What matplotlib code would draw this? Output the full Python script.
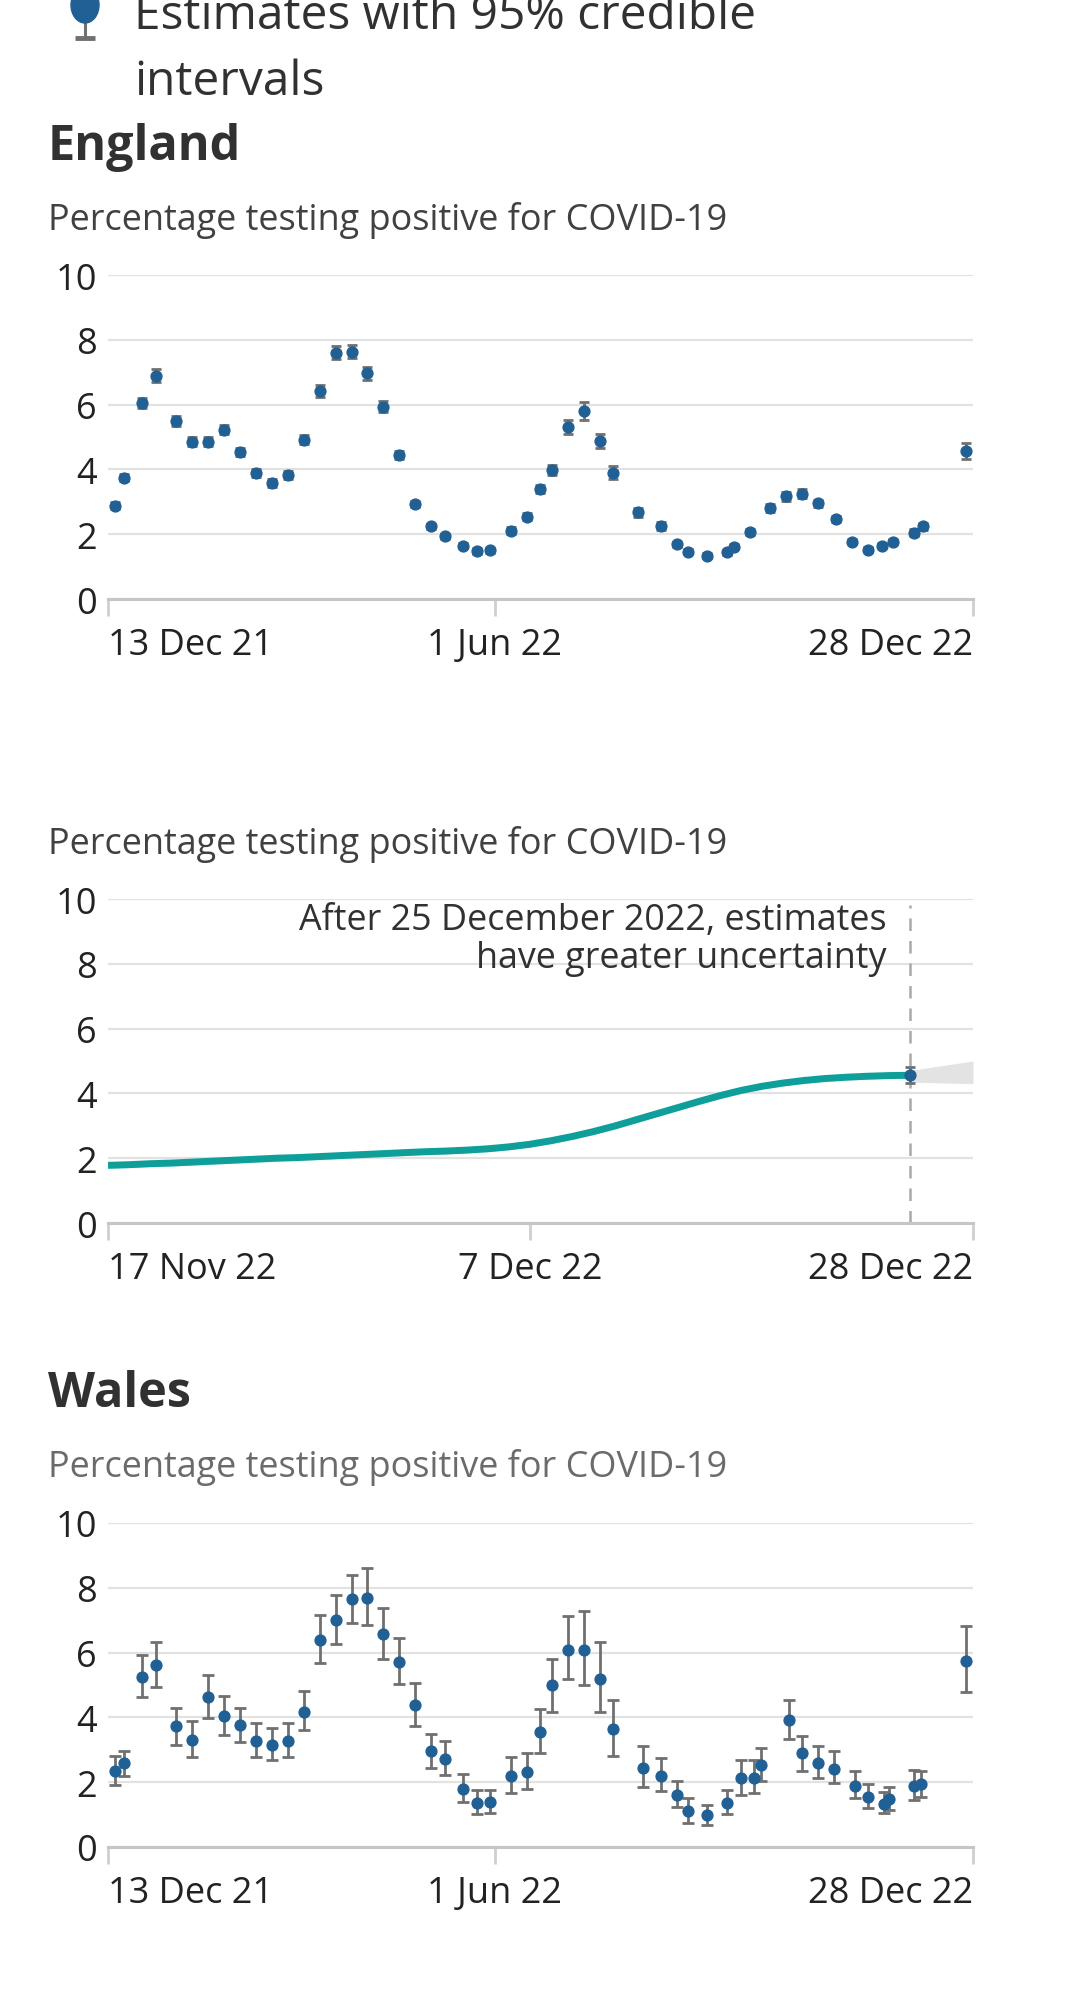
import numpy as np
import pandas as pd
import matplotlib
matplotlib.use("Agg")
import matplotlib.pyplot as plt
from matplotlib.patches import Ellipse

plt.rcParams['font.family'] = ['Open Sans', 'DejaVu Sans']

# ---- data ----
england_dates = ['2021-12-16', '2021-12-20', '2021-12-28', '2022-01-03', '2022-01-12', '2022-01-19',
                 '2022-01-26', '2022-02-02', '2022-02-09', '2022-02-16', '2022-02-23', '2022-03-02',
                 '2022-03-09', '2022-03-16', '2022-03-23', '2022-03-30', '2022-04-06', '2022-04-13',
                 '2022-04-20', '2022-04-27', '2022-05-04', '2022-05-10', '2022-05-18', '2022-05-24',
                 '2022-05-30', '2022-06-08', '2022-06-15', '2022-06-21', '2022-06-26', '2022-07-03',
                 '2022-07-10', '2022-07-17', '2022-07-23', '2022-08-03', '2022-08-13', '2022-08-20',
                 '2022-08-25', '2022-09-02', '2022-09-11', '2022-09-14', '2022-09-21', '2022-09-30',
                 '2022-10-07', '2022-10-14', '2022-10-21', '2022-10-29', '2022-11-05', '2022-11-12',
                 '2022-11-18', '2022-11-23', '2022-12-02', '2022-12-06', '2022-12-25']
england_est = [2.88, 3.75, 6.04, 6.89, 5.50, 4.86, 4.86, 5.23, 4.53, 3.88, 3.58, 3.83, 4.92, 6.43,
               7.60, 7.63, 6.96, 5.94, 4.45, 2.94, 2.25, 1.94, 1.65, 1.48, 1.50, 2.11, 2.54, 3.40,
               3.99, 5.30, 5.80, 4.87, 3.89, 2.67, 2.26, 1.69, 1.46, 1.34, 1.44, 1.62, 2.07, 2.82,
               3.17, 3.25, 2.95, 2.47, 1.77, 1.52, 1.65, 1.77, 2.05, 2.24, 4.56]
england_lower = [2.78, 3.65, 5.89, 6.69, 5.35, 4.71, 4.71, 5.08, 4.41, 3.76, 3.46, 3.71, 4.77, 6.25,
                 7.40, 7.43, 6.76, 5.77, 4.32, 2.84, 2.17, 1.86, 1.57, 1.40, 1.42, 2.01, 2.44, 3.27,
                 3.84, 5.08, 5.52, 4.65, 3.69, 2.52, 2.14, 1.61, 1.38, 1.26, 1.36, 1.54, 1.97, 2.70,
                 3.04, 3.12, 2.83, 2.37, 1.69, 1.44, 1.57, 1.69, 1.95, 2.14, 4.31]
england_upper = [2.98, 3.85, 6.19, 7.09, 5.65, 5.01, 5.01, 5.38, 4.65, 4.00, 3.70, 3.95, 5.07, 6.61,
                 7.80, 7.83, 7.16, 6.11, 4.58, 3.04, 2.33, 2.02, 1.73, 1.56, 1.58, 2.21, 2.64, 3.53,
                 4.14, 5.52, 6.08, 5.09, 4.09, 2.82, 2.38, 1.77, 1.54, 1.42, 1.52, 1.70, 2.17, 2.94,
                 3.30, 3.38, 3.07, 2.57, 1.85, 1.60, 1.73, 1.85, 2.15, 2.34, 4.81]

wales_dates = england_dates[:33] + ['2022-08-05', '2022-08-13', '2022-08-20', '2022-08-25', '2022-09-02',
                                    '2022-09-11', '2022-09-17', '2022-09-23', '2022-09-26', '2022-10-08',
                                    '2022-10-14', '2022-10-21', '2022-10-28', '2022-11-06', '2022-11-12',
                                    '2022-11-19', '2022-11-21', '2022-12-02', '2022-12-05', '2022-12-25']
wales_est = [2.36, 2.58, 5.24, 5.61, 3.74, 3.31, 4.62, 4.03, 3.76, 3.27, 3.15, 3.27, 4.17, 6.40, 7.01,
             7.64, 7.68, 6.57, 5.71, 4.38, 2.95, 2.71, 1.80, 1.35, 1.38, 2.18, 2.31, 3.54, 4.99, 6.09,
             6.07, 5.18, 3.63, 2.44, 2.20, 1.61, 1.10, 0.98, 1.35, 2.12, 2.14, 2.52, 3.91, 2.89, 2.60,
             2.42, 1.88, 1.54, 1.34, 1.49, 1.89, 1.93, 5.75]
wales_lower = [1.91, 2.18, 4.62, 4.94, 3.16, 2.78, 3.98, 3.47, 3.24, 2.78, 2.68, 2.78, 3.61, 5.67, 6.27,
               6.92, 6.84, 5.79, 5.04, 3.74, 2.44, 2.21, 1.38, 1.01, 1.04, 1.68, 1.80, 2.89, 4.18, 5.17,
               4.99, 4.16, 2.81, 1.84, 1.73, 1.22, 0.74, 0.69, 1.01, 1.61, 1.66, 2.04, 3.34, 2.36, 2.12,
               1.96, 1.51, 1.21, 1.04, 1.15, 1.46, 1.54, 4.78]
wales_upper = [2.81, 2.97, 5.94, 6.32, 4.28, 3.90, 5.31, 4.65, 4.30, 3.84, 3.66, 3.84, 4.83, 7.17, 7.78,
               8.39, 8.60, 7.38, 6.45, 5.07, 3.50, 3.27, 2.25, 1.75, 1.77, 2.78, 2.89, 4.25, 5.79, 7.13,
               7.27, 6.32, 4.53, 3.11, 2.76, 2.05, 1.51, 1.30, 1.77, 2.68, 2.68, 3.05, 4.54, 3.43, 3.11,
               2.97, 2.36, 1.93, 1.70, 1.86, 2.39, 2.36, 6.82]

# modelled daily trend for England, 17 Nov to 25 Dec 2022
trend_start, trend_end = '2022-11-17', '2022-12-25'
trend_est = [1.78, 1.80, 1.83, 1.85, 1.88, 1.91, 1.94, 1.97, 2.00, 2.02, 2.05, 2.08, 2.11, 2.14,
             2.17, 2.20, 2.22, 2.25, 2.29, 2.35, 2.43, 2.54, 2.67, 2.82, 2.99, 3.18, 3.37, 3.56,
             3.75, 3.93, 4.09, 4.22, 4.32, 4.40, 4.46, 4.50, 4.53, 4.55, 4.56]
trend_ci = 0.09
extra_dates = ['2022-12-25', '2022-12-28']
extra_lower = [4.35, 4.30]
extra_upper = [4.71, 5.00]
latest_date, latest_est, latest_lower, latest_upper = '2022-12-25', 4.56, 4.33, 4.81

long_ticks = ['2021-12-13', '2022-06-01', '2022-12-28']
long_labels = ['13 Dec 21', '1 Jun 22', '28 Dec 22']
short_ticks = ['2022-11-17', '2022-12-07', '2022-12-28']
short_labels = ['17 Nov 22', '7 Dec 22', '28 Dec 22']

BLUE = '#206095'
GREY_BAR = '#707071'
TEAL = '#0f9f9b'
DARK = '#323132'

W, H = 1080, 2006
fig = plt.figure(figsize=(W / 100, H / 100), dpi=100)


def axes_px(left, top, right, bottom):
    return fig.add_axes([left / W, 1 - bottom / H, (right - left) / W, (bottom - top) / H])


def style_axes(ax, ticks, labels):
    ax.set_ylim(0, 10)
    ax.set_yticks([0, 2, 4, 6, 8, 10])
    ax.set_xlim(pd.Timestamp(ticks[0]), pd.Timestamp(ticks[-1]))
    ax.grid(axis='y', color='#e2e2e2', lw=1.6)
    ax.set_axisbelow(True)
    for s in ['left', 'top', 'right']:
        ax.spines[s].set_visible(False)
    ax.spines['bottom'].set_color('#c6c6c6')
    ax.spines['bottom'].set_linewidth(2.2)
    ax.tick_params(axis='y', length=0, pad=8, labelsize=26, labelcolor='#222222')
    ax.tick_params(axis='x', length=12, width=2, color='#cfcfcf', pad=8, labelsize=26,
                   labelcolor='#222222')
    ax.set_xticks(pd.to_datetime(ticks))
    ax.set_xticklabels(labels)
    tl = ax.get_xticklabels()
    tl[0].set_ha('left')
    tl[-1].set_ha('right')
    ax.patch.set_alpha(0)


def estimates(ax, dates, est, lower, upper, capsize):
    est = np.array(est)
    yerr = [est - np.array(lower), np.array(upper) - est]
    ax.errorbar(pd.to_datetime(dates), est, yerr=yerr, fmt='o', color=BLUE, ms=7.8,
                ecolor=GREY_BAR, elinewidth=2, capsize=capsize, capthick=2, clip_on=False, zorder=3)


# ---- England, long series ----
ax1 = axes_px(108, 276, 973, 600)
style_axes(ax1, long_ticks, long_labels)
estimates(ax1, england_dates, england_est, england_lower, england_upper, 3.8)

# ---- England, recent modelled trend ----
ax2 = axes_px(108, 900, 973, 1224)
style_axes(ax2, short_ticks, short_labels)
tdates = pd.date_range(trend_start, trend_end, freq='D')
tvals = np.array(trend_est)
ax2.fill_between(pd.to_datetime(extra_dates), extra_lower, extra_upper, color='#e3e3e3', lw=0, zorder=1)
ax2.fill_between(tdates, tvals - trend_ci, tvals + trend_ci, color='#bfe6e4', lw=0, zorder=1)
ax2.plot(tdates, tvals, color=TEAL, lw=5, solid_capstyle='round', zorder=2)
ax2.axvline(pd.Timestamp(latest_date), ymin=0, ymax=0.98, color='#a9a9a9', lw=1.8,
            dashes=(5, 4), zorder=1.5)
estimates(ax2, [latest_date], [latest_est], [latest_lower], [latest_upper], 3.8)

# ---- Wales, long series ----
ax3 = axes_px(108, 1524, 973, 1848)
style_axes(ax3, long_ticks, long_labels)
estimates(ax3, wales_dates, wales_est, wales_lower, wales_upper, 4.3)

# ---- text and legend in pixel space ----
ov = fig.add_axes([0, 0, 1, 1], zorder=10)
ov.set_xlim(0, W)
ov.set_ylim(H, 0)
ov.axis('off')

ov.add_patch(Ellipse((85, 6), 28, 36, color=BLUE, zorder=3))
ov.plot([85, 85], [20, 38], color=GREY_BAR, lw=2.2, zorder=2)
ov.plot([75, 95], [39, 39], color=GREY_BAR, lw=3.5, solid_capstyle='butt', zorder=2)
ov.text(134, 29, 'Estimates with 95% credible', fontsize=34.5, color=DARK, va='baseline')
ov.text(134, 95, 'intervals', fontsize=34.5, color=DARK, va='baseline')

ov.text(48, 160, 'England', fontsize=35, fontweight='bold', color=DARK, va='baseline')
ov.text(48, 230, 'Percentage testing positive for COVID-19', fontsize=25.9, color='#414042',
        va='baseline')
ov.text(48, 854, 'Percentage testing positive for COVID-19', fontsize=25.9, color='#414042',
        va='baseline')
ov.text(887, 930, 'After 25 December 2022, estimates', fontsize=25.8, color=DARK,
        va='baseline', ha='right')
ov.text(887, 968, 'have greater uncertainty', fontsize=25.8, color=DARK,
        va='baseline', ha='right')
ov.text(48, 1407, 'Wales', fontsize=35, fontweight='bold', color=DARK, va='baseline')
ov.text(48, 1477, 'Percentage testing positive for COVID-19', fontsize=25.9, color='#6b6b6b',
        va='baseline')

fig.savefig('out.png', dpi=100)
